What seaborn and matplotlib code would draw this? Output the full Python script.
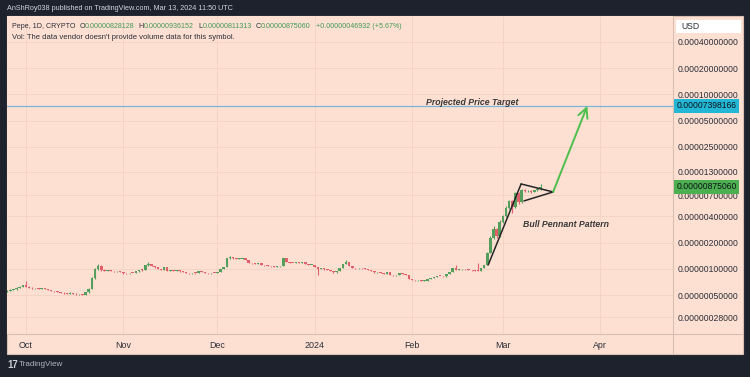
import numpy as np
import pandas as pd
import matplotlib
matplotlib.use("Agg")
import matplotlib.pyplot as plt
import matplotlib.dates as mdates
import matplotlib.transforms as mtransforms
from matplotlib.patches import Rectangle
from matplotlib.lines import Line2D
from matplotlib.ticker import NullLocator
import seaborn as sns

# ---------------- data (prices in micro-USD, daily candles from 2023-09-25) ----------------
first_day = "2023-09-25"
opens = [0.550, 0.558, 0.573, 0.580, 0.604, 0.620, 0.645, 0.620, 0.604, 0.596,
         0.598, 0.588, 0.596, 0.588, 0.573, 0.558, 0.551, 0.543, 0.529, 0.523,
         0.516, 0.529, 0.516, 0.509, 0.511, 0.502, 0.536, 0.588, 0.786, 0.997,
         1.080, 0.971, 0.946, 0.958, 0.946, 0.934, 0.946, 0.921, 0.897, 0.886,
         0.897, 0.894, 0.934, 0.971, 0.965, 1.094, 1.138, 1.080, 1.037, 0.997,
         0.971, 1.051, 0.946, 0.950, 0.944, 0.958, 0.934, 0.921, 0.897, 0.886,
         0.897, 0.892, 0.946, 0.921, 0.897, 0.886, 0.897, 0.893, 0.921, 0.997,
         1.051, 1.316, 1.369, 1.316, 1.299, 1.305, 1.316, 1.265, 1.169, 1.153,
         1.138, 1.169, 1.108, 1.094, 1.080, 1.065, 1.051, 1.065, 1.080, 1.334,
         1.200, 1.169, 1.165, 1.185, 1.169, 1.200, 1.138, 1.108, 1.112, 1.051,
         0.997, 1.010, 0.984, 0.971, 0.946, 0.909, 0.946, 1.024, 1.138, 1.200,
         1.080, 1.024, 1.010, 1.024, 1.010, 0.997, 0.971, 0.946, 0.909, 0.921,
         0.897, 0.874, 0.921, 0.851, 0.840, 0.851, 0.897, 0.874, 0.851, 0.766,
         0.746, 0.736, 0.746, 0.727, 0.730, 0.766, 0.786, 0.807, 0.829, 0.825,
         0.818, 0.874, 0.921, 1.024, 0.971, 0.984, 0.997, 0.984, 0.971, 0.958,
         0.946, 0.940, 1.024, 1.108, 1.522, 2.262, 2.868, 2.384, 3.450, 4.043,
         4.994, 6.007, 5.128, 7.420, 5.851, 8.030, 7.720, 7.820, 7.620, 7.930,
         8.28128]
highs = [0.566, 0.580, 0.590, 0.612, 0.628, 0.652, 0.727, 0.630, 0.612, 0.606,
         0.604, 0.602, 0.600, 0.594, 0.578, 0.564, 0.556, 0.548, 0.536, 0.530,
         0.538, 0.534, 0.522, 0.518, 0.516, 0.542, 0.598, 0.800, 1.010, 1.138,
         1.100, 0.985, 0.970, 0.966, 0.956, 0.954, 0.952, 0.930, 0.905, 0.905,
         0.904, 0.942, 0.980, 0.985, 1.105, 1.185, 1.150, 1.090, 1.045, 1.008,
         1.062, 1.060, 0.960, 0.958, 0.966, 0.964, 0.942, 0.928, 0.904, 0.904,
         0.904, 0.952, 0.955, 0.928, 0.904, 0.904, 0.902, 0.928, 1.005, 1.060,
         1.330, 1.400, 1.380, 1.330, 1.320, 1.330, 1.340, 1.275, 1.180, 1.160,
         1.178, 1.175, 1.115, 1.100, 1.088, 1.072, 1.072, 1.088, 1.345, 1.345,
         1.208, 1.180, 1.195, 1.192, 1.210, 1.206, 1.145, 1.120, 1.120, 1.060,
         1.020, 1.016, 0.990, 0.978, 0.952, 0.952, 1.030, 1.145, 1.265, 1.210,
         1.088, 1.030, 1.030, 1.030, 1.016, 1.002, 0.978, 0.952, 0.928, 0.926,
         0.904, 0.928, 0.926, 0.858, 0.858, 0.904, 0.902, 0.880, 0.858, 0.772,
         0.752, 0.752, 0.752, 0.736, 0.772, 0.792, 0.814, 0.836, 0.836, 0.832,
         0.880, 0.928, 1.032, 1.108, 0.992, 1.004, 1.002, 0.990, 0.978, 0.964,
         1.169, 1.032, 1.115, 1.563, 2.384, 3.104, 2.950, 3.600, 4.200, 5.200,
         6.200, 6.200, 7.600, 7.700, 8.300, 8.150, 8.000, 7.950, 8.050, 8.400,
         9.36152]
lows = [0.544, 0.552, 0.566, 0.575, 0.598, 0.614, 0.612, 0.598, 0.590, 0.588,
        0.582, 0.584, 0.582, 0.568, 0.552, 0.546, 0.538, 0.524, 0.518, 0.510,
        0.512, 0.512, 0.504, 0.502, 0.496, 0.498, 0.530, 0.580, 0.770, 0.960,
        0.950, 0.935, 0.936, 0.938, 0.926, 0.928, 0.912, 0.884, 0.878, 0.880,
        0.886, 0.890, 0.928, 0.955, 0.958, 1.080, 1.070, 1.028, 0.988, 0.962,
        0.965, 0.940, 0.938, 0.936, 0.938, 0.926, 0.914, 0.890, 0.878, 0.880,
        0.884, 0.888, 0.915, 0.890, 0.878, 0.880, 0.886, 0.888, 0.915, 0.990,
        1.045, 1.300, 1.300, 1.285, 1.290, 1.296, 1.255, 1.160, 1.145, 1.130,
        1.132, 1.100, 1.086, 1.072, 1.058, 1.044, 1.046, 1.060, 1.075, 1.190,
        1.160, 1.158, 1.160, 1.162, 1.164, 1.130, 1.100, 1.102, 1.044, 0.851,
        0.990, 0.978, 0.965, 0.940, 0.902, 0.904, 0.940, 1.018, 1.130, 1.072,
        1.018, 1.004, 1.005, 1.004, 0.990, 0.965, 0.940, 0.902, 0.904, 0.890,
        0.868, 0.870, 0.845, 0.834, 0.836, 0.846, 0.868, 0.845, 0.760, 0.740,
        0.730, 0.732, 0.722, 0.722, 0.726, 0.760, 0.780, 0.800, 0.818, 0.812,
        0.812, 0.868, 0.915, 0.960, 0.965, 0.978, 0.978, 0.965, 0.952, 0.940,
        0.934, 0.934, 1.018, 1.100, 1.500, 2.200, 2.250, 2.330, 3.360, 3.950,
        4.900, 4.376, 5.050, 5.600, 5.750, 7.550, 7.600, 7.450, 7.550, 7.850,
        8.11313]
closes = [0.558, 0.573, 0.580, 0.604, 0.620, 0.645, 0.620, 0.604, 0.596, 0.598,
          0.588, 0.596, 0.588, 0.573, 0.558, 0.551, 0.543, 0.529, 0.523, 0.516,
          0.529, 0.516, 0.509, 0.511, 0.502, 0.536, 0.588, 0.786, 0.997, 1.080,
          0.971, 0.946, 0.958, 0.946, 0.934, 0.946, 0.921, 0.897, 0.886, 0.897,
          0.894, 0.934, 0.971, 0.965, 1.094, 1.138, 1.080, 1.037, 0.997, 0.971,
          1.051, 0.946, 0.950, 0.944, 0.958, 0.934, 0.921, 0.897, 0.886, 0.897,
          0.892, 0.946, 0.921, 0.897, 0.886, 0.897, 0.893, 0.921, 0.997, 1.051,
          1.316, 1.369, 1.316, 1.299, 1.305, 1.316, 1.265, 1.169, 1.153, 1.138,
          1.169, 1.108, 1.094, 1.080, 1.065, 1.051, 1.065, 1.080, 1.334, 1.200,
          1.169, 1.165, 1.185, 1.169, 1.200, 1.138, 1.108, 1.112, 1.051, 0.997,
          1.010, 0.984, 0.971, 0.946, 0.909, 0.946, 1.024, 1.138, 1.200, 1.080,
          1.024, 1.010, 1.024, 1.010, 0.997, 0.971, 0.946, 0.909, 0.921, 0.897,
          0.874, 0.921, 0.851, 0.840, 0.851, 0.897, 0.874, 0.851, 0.766, 0.746,
          0.736, 0.746, 0.727, 0.730, 0.766, 0.786, 0.807, 0.829, 0.825, 0.818,
          0.874, 0.921, 1.024, 0.971, 0.984, 0.997, 0.984, 0.971, 0.958, 0.946,
          0.940, 1.024, 1.108, 1.522, 2.262, 2.868, 2.384, 3.450, 4.043, 4.994,
          6.007, 5.128, 7.420, 5.851, 8.030, 7.720, 7.820, 7.620, 7.930, 8.28128,
          8.75060]
MICRO = 1e-6

y_ticks = [0.0004, 0.0002, 0.0001, 0.00005, 0.000025, 0.000013, 0.000007,
           0.000004, 0.000002, 0.000001, 0.0000005, 0.00000028]
month_dates = ["2023-10-01", "2023-11-01", "2023-12-01", "2024-01-01",
               "2024-02-01", "2024-03-01", "2024-04-01"]
month_labels = ["Oct", "Nov", "Dec", "2024", "Feb", "Mar", "Apr"]
view_start, view_end = "2023-09-24 22:30", "2024-04-24 05:00"
y_min, y_max = 1.79e-7, 7.94e-4

target_price = 0.00007398166
last_price = 0.00000875060

# drawn pattern (dates, micro-USD)
flagpole_dates = ["2024-02-25 07:12", "2024-03-06 19:12"]
flagpole_prices = [1.108, 9.41]
pennant_top_dates = ["2024-03-06 19:12", "2024-03-17 00:00"]
pennant_top_prices = [9.41, 7.62]
pennant_bot_dates = ["2024-03-07 16:48", "2024-03-17 00:00"]
pennant_bot_prices = [6.01, 7.62]
arrow_dates = ["2024-03-17 00:00", "2024-03-27 21:36"]
arrow_prices = [7.62, 73.98166]

header = "AnShRoy038 published on TradingView.com, Mar 13, 2024 11:50 UTC"
legend_line1 = [("Pepe, 1D, CRYPTO", "dark", 3.5), ("O", "dark", 0), ("0.00000828128", "green", 3.5),
                ("H", "dark", 0), ("0.00000936152", "green", 3.5), ("L", "dark", 0),
                ("0.00000811313", "green", 3.5), ("C", "dark", 0), ("0.00000875060", "green", 5.0),
                ("+0.00000046932 (+5.67%)", "green", 0)]
legend_line2 = "Vol: The data vendor doesn't provide volume data for this symbol."

# ---------------- style ----------------
FRAME = "#1e222d"
BG = "#fde0d2"
GRID = "#f3d2c3"
SEP = "#d8bfb2"
GREEN = "#559f5c"
RED = "#e0606b"
TXT = "#2a2e39"
LEG_GREEN = "#3f9a55"
CYAN = "#22b7d5"
LAST_GREEN = "#4caf50"
TARGET_LINE = "#7ab6d6"
ARROW = "#4cbf4c"
PENNANT = "#262626"

sns.set_theme(style="white")
plt.rcParams['font.family'] = ['Liberation Sans', 'DejaVu Sans']

W, H = 750, 377
fig = plt.figure(figsize=(W / 100, H / 100), dpi=100, facecolor=FRAME)


def fx(px):
    return px / W


def fy(py):
    return 1 - py / H


fig.patches.append(Rectangle((fx(7), fy(354)), fx(743) - fx(7), fy(16) - fy(354),
                             transform=fig.transFigure, facecolor=BG, edgecolor=SEP,
                             lw=0.8, zorder=-5))

ax = fig.add_axes([fx(7), fy(334), (673 - 7) / W, (334 - 16) / H])
ax.set_facecolor(BG)
for s in ax.spines.values():
    s.set_visible(False)

fig.add_artist(Line2D([fx(673), fx(673)], [fy(354), fy(16)], transform=fig.transFigure,
                      color=SEP, lw=0.8, zorder=5))
fig.add_artist(Line2D([fx(7), fx(743)], [fy(334), fy(334)], transform=fig.transFigure,
                      color=SEP, lw=0.8, zorder=5))

dates = pd.date_range(first_day, periods=len(closes), freq="D")
x = mdates.date2num(dates)
O = np.array(opens) * MICRO
Hh = np.array(highs) * MICRO
L = np.array(lows) * MICRO
C = np.array(closes) * MICRO
up = C >= O
cols = np.where(up, GREEN, RED)

ax.set_yscale("log")
ax.vlines(x, L, Hh, colors=cols, lw=0.8, zorder=3)
body_lo = np.minimum(O, C)
body_hi = np.maximum(O, C)
body_hi = np.maximum(body_hi, body_lo * 1.02)
ax.bar(x, body_hi - body_lo, bottom=body_lo, width=0.82, color=cols, lw=0, zorder=4)

# pattern drawings
for dts, prs in [(flagpole_dates, flagpole_prices), (pennant_top_dates, pennant_top_prices),
                 (pennant_bot_dates, pennant_bot_prices)]:
    sns.lineplot(x=mdates.date2num(pd.to_datetime(dts)), y=np.array(prs) * MICRO, ax=ax,
                 color=PENNANT, lw=1.1, sort=False, estimator=None, zorder=6)
ax.axhline(target_price, color=TARGET_LINE, lw=0.9, zorder=2)
ad = mdates.date2num(pd.to_datetime(arrow_dates))
ax.annotate("", xy=(ad[1], arrow_prices[1] * MICRO), xytext=(ad[0], arrow_prices[0] * MICRO),
            arrowprops=dict(arrowstyle="->,head_length=0.7,head_width=0.35", color=ARROW, lw=1.4,
                            shrinkA=0, shrinkB=0, mutation_scale=10), zorder=6)

ax.text(mdates.date2num(pd.Timestamp("2024-02-05 12:00")), 8.0e-5, "Projected Price Target",
        fontsize=6.3, fontstyle="italic", fontweight="bold", color="#3a3a3a", va="center", ha="left")
ax.text(mdates.date2num(pd.Timestamp("2024-03-07 09:36")), 3.19e-6, "Bull Pennant Pattern",
        fontsize=6.3, fontstyle="italic", fontweight="bold", color="#3a3a3a", va="center", ha="left")

# axes
ax.set_xlabel("")
ax.set_ylabel("")
ax.set_xlim(mdates.date2num(pd.Timestamp(view_start)), mdates.date2num(pd.Timestamp(view_end)))
ax.set_ylim(y_min, y_max)
ax.yaxis.set_minor_locator(NullLocator())
ax.set_yticks(y_ticks)
ax.set_yticklabels([f"{v:.11f}" for v in y_ticks])
ax.yaxis.tick_right()
ax.set_xticks(mdates.date2num(pd.to_datetime(month_dates)))
ax.set_xticklabels(month_labels)
ax.tick_params(axis="y", length=0, pad=3.5, labelsize=6.2, labelcolor=TXT)
ax.tick_params(axis="x", length=0, pad=5, labelsize=6.4, labelcolor=TXT)
ax.grid(True, color=GRID, lw=0.6)
ax.set_axisbelow(True)

trans = mtransforms.blended_transform_factory(ax.transAxes, ax.transData)
ax.text(1.005, target_price, f"{target_price:.11f}", transform=trans, ha="left", va="center",
        fontsize=6.2, color="#10131a", clip_on=False, zorder=10,
        bbox=dict(boxstyle="square,pad=0.3", fc=CYAN, ec="none"))
ax.text(1.005, last_price, f"{last_price:.11f}", transform=trans, ha="left", va="center",
        fontsize=6.2, color="#10131a", clip_on=False, zorder=10,
        bbox=dict(boxstyle="square,pad=0.3", fc=LAST_GREEN, ec="none"))

# USD box
fig.patches.append(Rectangle((fx(676), fy(33)), fx(741) - fx(676), fy(20) - fy(33),
                             transform=fig.transFigure, facecolor="white", edgecolor="none", zorder=3))
fig.text(fx(681), fy(26.5), "USD", fontsize=6.2, color=TXT, va="center", ha="left", zorder=4)

# header and legend
fig.text(fx(7), fy(9), header, fontsize=5.2, color="#d1d4dc", va="center", ha="left")
renderer = fig.canvas.get_renderer()
xpos = 12.0
for txt, kind, gap in legend_line1:
    t = fig.text(fx(xpos), fy(26), txt, fontsize=5.1, va="center", ha="left",
                 color=TXT if kind == "dark" else LEG_GREEN)
    xpos += t.get_window_extent(renderer).width + gap + 0.3
fig.text(fx(12), fy(37.5), legend_line2, fontsize=5.5, color=TXT, va="center", ha="left")

# footer logo
fig.text(fx(7), fy(365), "17", fontsize=7, fontweight="bold", color="#c9ccd4", va="center", ha="left")
fig.text(fx(19), fy(365), "TradingView", fontsize=5.8, color="#b2b5be", va="center", ha="left")

fig.savefig("out.png", dpi=100, facecolor=FRAME)
